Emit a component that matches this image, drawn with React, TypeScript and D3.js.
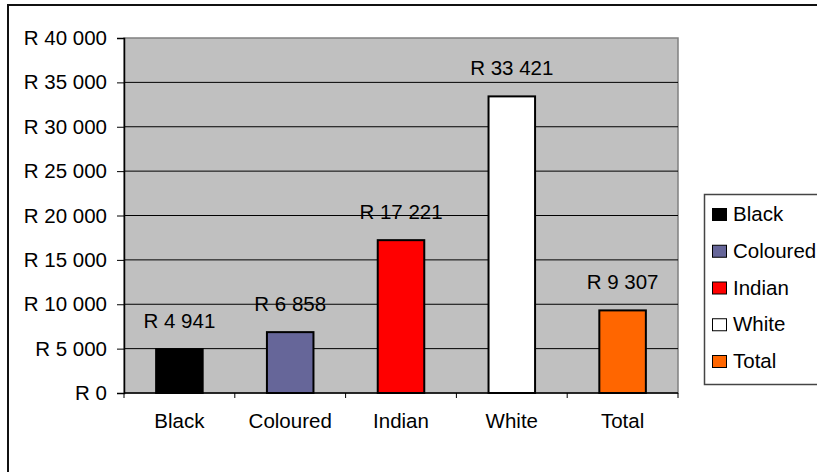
import React, { useEffect, useRef } from 'react';
import * as d3 from 'd3';

const categories = ['Black', 'Coloured', 'Indian', 'White', 'Total'];
const values = [4941, 6858, 17221, 33421, 9307];
const colors = ['#000000', '#666699', '#FF0000', '#FFFFFF', '#FF6600'];
const yTicks = [0, 5000, 10000, 15000, 20000, 25000, 30000, 35000, 40000];

const W = 817;
const H = 472;
const FONT = '"Liberation Sans", Arial, sans-serif';

const fmt = (v: number) => 'R ' + d3.format(',')(v).replace(/,/g, ' ');

const App = () => {
  const svgRef = useRef<SVGSVGElement>(null);

  useEffect(() => {
    const svg = d3.select(svgRef.current);
    svg.selectAll('*').remove();
    const plot = { left: 124, right: 678, top: 38, bottom: 393 };

    // outer chart border
    svg.append('rect')
      .attr('x', 8).attr('y', 5)
      .attr('width', 830).attr('height', 500)
      .attr('fill', 'white')
      .attr('stroke', '#111').attr('stroke-width', 2);

    const x = d3.scaleBand()
      .domain(categories)
      .range([plot.left, plot.right])
      .paddingInner(0.58)
      .paddingOuter(0.29);

    const y = d3.scaleLinear()
      .domain([0, 40000])
      .range([plot.bottom, plot.top]);

    // plot area
    svg.append('rect')
      .attr('x', plot.left).attr('y', plot.top)
      .attr('width', plot.right - plot.left)
      .attr('height', plot.bottom - plot.top)
      .attr('fill', '#C0C0C0')
      .attr('stroke', '#808080').attr('stroke-width', 1.5);

    // gridlines
    svg.selectAll('line.grid')
      .data(yTicks.filter(d => d > 0 && d < 40000))
      .enter()
      .append('line')
      .attr('class', 'grid')
      .attr('x1', plot.left).attr('x2', plot.right)
      .attr('y1', d => y(d)).attr('y2', d => y(d))
      .attr('stroke', '#000').attr('stroke-width', 1);

    // bars
    svg.selectAll('rect.bar')
      .data(values)
      .enter()
      .append('rect')
      .attr('class', 'bar')
      .attr('x', (d, i) => x(categories[i])!)
      .attr('y', d => y(d))
      .attr('width', x.bandwidth())
      .attr('height', d => y(0) - y(d))
      .attr('fill', (d, i) => colors[i])
      .attr('stroke', '#000').attr('stroke-width', 2);

    // value labels
    svg.selectAll('text.val')
      .data(values)
      .enter()
      .append('text')
      .attr('class', 'val')
      .attr('x', (d, i) => x(categories[i])! + x.bandwidth() / 2)
      .attr('y', d => y(d) - 21)
      .attr('text-anchor', 'middle')
      .style('font-family', FONT).style('font-size', '20.5px')
      .text(d => fmt(d));

    // y axis
    const yAxis = d3.axisLeft(y).tickValues(yTicks).tickSize(7).tickPadding(10)
      .tickFormat(d => fmt(d as number));
    const gy = svg.append('g')
      .attr('transform', `translate(${plot.left},0)`)
      .call(yAxis);
    gy.select('.domain').attr('stroke', '#000').attr('stroke-width', 1.5);
    gy.selectAll('text').style('font-family', FONT).style('font-size', '20.5px').attr('fill', '#000');

    // x axis with ticks at category boundaries
    const gx = svg.append('g').attr('transform', `translate(0,${plot.bottom})`);
    gx.append('line')
      .attr('x1', plot.left).attr('x2', plot.right)
      .attr('stroke', '#000').attr('stroke-width', 1.5);
    const step = x.step();
    const bounds = d3.range(categories.length + 1).map(i => plot.left + i * step);
    gx.selectAll('line.tk')
      .data(bounds)
      .enter()
      .append('line')
      .attr('class', 'tk')
      .attr('x1', d => d).attr('x2', d => d)
      .attr('y1', 0).attr('y2', 5)
      .attr('stroke', '#000');
    gx.selectAll('text')
      .data(categories)
      .enter()
      .append('text')
      .attr('x', d => x(d)! + x.bandwidth() / 2)
      .attr('y', 35)
      .attr('text-anchor', 'middle')
      .style('font-family', FONT).style('font-size', '20.5px')
      .text(d => d);

    // legend
    const lg = svg.append('g');
    lg.append('rect')
      .attr('x', 704.5).attr('y', 194.5)
      .attr('width', 130).attr('height', 190)
      .attr('fill', 'white')
      .attr('stroke', '#444').attr('stroke-width', 1.5);
    const items = lg.selectAll('g.item')
      .data(categories)
      .enter()
      .append('g')
      .attr('class', 'item')
      .attr('transform', (d, i) => `translate(0,${221 + i * 36.75})`);
    items.append('rect')
      .attr('x', 712.5).attr('y', -12.5)
      .attr('width', 14).attr('height', 12)
      .attr('fill', (d, i) => colors[i])
      .attr('stroke', '#000').attr('stroke-width', 1);
    items.append('text')
      .attr('x', 733).attr('y', 0)
      .style('font-family', FONT).style('font-size', '20.5px')
      .text(d => d);
  }, []);

  return (
    <svg ref={svgRef} width={W} height={H}
      style={{ position: 'absolute', left: 0, top: 0, background: 'white' }} />
  );
};

export default App;
